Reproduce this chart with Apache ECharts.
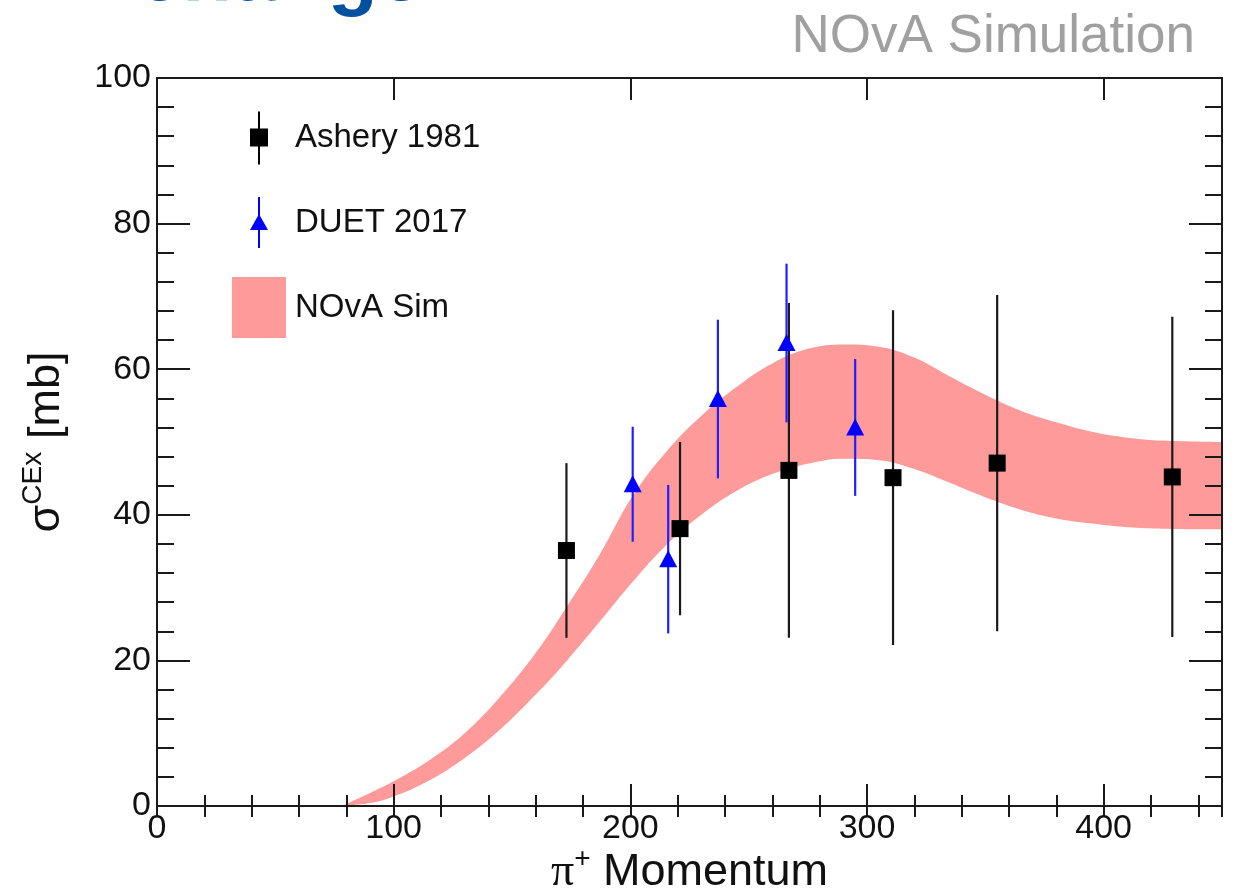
<!DOCTYPE html>
<html><head><meta charset="utf-8">
<script src="https://cdn.jsdelivr.net/npm/echarts@6/dist/echarts.min.js"></script>
<style>html,body{margin:0;padding:0;background:#fff}#c{width:1238px;height:892px}</style>
</head><body><div id="c"></div>
<script>
// ---- data ----
const xTickLabels = ['0', '100', '200', '300', '400'];
const yTickLabels = ['0', '20', '40', '60', '80', '100'];

const asheryX   = [173, 221, 267, 311, 355, 429];
const asheryY   = [35.1, 38.1, 46.1, 45.1, 47.1, 45.2];
const asheryErr = [12.0, 11.9, 23.0, 23.0, 23.1, 22.0];

const duetX   = [201, 216, 237, 266, 295];
const duetY   = [44.2, 33.9, 55.9, 63.6, 52.0];
const duetErr = [7.9, 10.2, 10.9, 10.9, 9.4];

const bandX     = [78, 90, 100, 115, 130, 145, 160, 173, 187, 201, 215, 230, 245, 260, 275, 290, 305, 320, 335, 350, 365, 380, 395, 410, 425, 450];
const bandUpper = [0.0, 1.8, 3.4, 6.3, 10.0, 15.0, 21.0, 27.3, 34.5, 42.6, 48.6, 53.6, 57.6, 60.8, 62.8, 63.4, 63.1, 61.6, 59.0, 56.5, 54.3, 52.7, 51.4, 50.6, 50.2, 50.0];
const bandLower = [0.0, 0.4, 1.3, 3.5, 6.6, 10.5, 15.3, 19.9, 25.3, 30.8, 35.8, 40.0, 43.3, 45.6, 47.0, 47.7, 47.5, 46.3, 44.4, 42.4, 40.7, 39.5, 38.8, 38.3, 38.1, 38.0];

// ---- styling ----
const F = '"Liberation Sans", Arial, Helvetica, sans-serif';
const AX = '#1a1a1a';
const PINK = '#ff9a9a';
const BLUE = '#0000ff';

function errRender(kind, markColor, barColor) {
  return function (params, api) {
    const x = api.value(0), y = api.value(1), e = api.value(2);
    const c = api.coord([x, y]);
    const t = api.coord([x, y + e]);
    const b = api.coord([x, y - e]);
    const children = [{
      type: 'line',
      shape: { x1: c[0], y1: t[1], x2: c[0], y2: b[1] },
      style: { stroke: barColor, lineWidth: 2.2 }
    }];
    if (kind === 'square') {
      children.push({ type: 'rect', shape: { x: c[0] - 8.5, y: c[1] - 8.5, width: 17, height: 17 }, style: { fill: markColor } });
    } else {
      children.push({ type: 'polygon', shape: { points: [[c[0], c[1] - 9], [c[0] + 9, c[1] + 8], [c[0] - 9, c[1] + 8]] }, style: { fill: markColor } });
    }
    return { type: 'group', children: children };
  };
}

const chart = echarts.init(document.getElementById('c'), null, { renderer: 'canvas' });

const majorTickX = { show: true, inside: true, length: 22, lineStyle: { color: AX, width: 2 } };
const minorTickX = { show: true, inside: true, length: 11, lineStyle: { color: AX, width: 2 } };
const axisLineOn = { show: true, onZero: false, lineStyle: { color: AX, width: 2 } };

const titleRich = {
  s:   { fontSize: 45, lineHeight: 56, fontFamily: F, color: '#111' },
  pi:  { fontSize: 46, lineHeight: 56, fontFamily: '"Liberation Serif", serif', color: '#111' },
  sup: { fontSize: 28, lineHeight: 38, verticalAlign: 'top', fontFamily: F, color: '#111' },
  t:   { fontSize: 45, lineHeight: 56, fontFamily: F, color: '#111' }
};

const option = {
  backgroundColor: '#ffffff',
  animation: false,
  grid: { left: 157, right: 16, top: 78, bottom: 86, containLabel: false, outerBoundsMode: 'none' },
  legend: {
    orient: 'vertical', left: 232, top: 107, padding: 0,
    itemWidth: 54, itemHeight: 61, itemGap: 24,
    selectedMode: false,
    textStyle: { fontSize: 33, fontFamily: F, color: '#111', padding: [0, 0, 0, 4] },
    data: [
      { name: 'Ashery 1981', icon: 'path://M0,0M54,61M18,21.5h18v18h-18zM26,4.5h2v53h-2z', itemStyle: { color: '#000' } },
      { name: 'DUET 2017', icon: 'path://M0,0M54,61M27,22L36,38L18,38zM26,5h2v51h-2z', itemStyle: { color: BLUE } },
      { name: 'NOvA Sim', icon: 'rect', itemStyle: { color: PINK, borderWidth: 0 } }
    ]
  },
  graphic: [
    { type: 'text', x: 36, y: -23, z: 100,
      style: { text: 'Exchange', fontSize: 82, fontWeight: 'bold', fontFamily: F, fill: '#0050a0', textAlign: 'left', align: 'left', textVerticalAlign: 'middle', verticalAlign: 'middle' } },
    { type: 'text', x: 1195, y: 37, z: 100,
      style: { text: 'NOvA Simulation', fontSize: 53, fontFamily: F, fill: '#a0a0a0', textAlign: 'right', align: 'right', textVerticalAlign: 'middle', verticalAlign: 'middle' } }
  ],
  xAxis: [
    { type: 'value', position: 'bottom', min: 0, max: 450, interval: 100, z: 10,
      axisLine: axisLineOn, axisTick: majorTickX, minorTick: { show: false }, splitLine: { show: false },
      axisLabel: { show: true, margin: 6, fontSize: 34, fontFamily: F, color: '#111', showMaxLabel: false,
        formatter: function (v) { const s = String(v); return xTickLabels.indexOf(s) >= 0 ? s : ''; } },
      name: '{pi|π}{sup|+} {t|Momentum}', nameLocation: 'middle', nameGap: 39, nameMoveOverlap: false,
      nameTextStyle: { fontFamily: F, fontSize: 45, color: '#111', rich: titleRich } },
    { type: 'value', position: 'bottom', min: 0, max: 450, interval: 20, z: 10,
      axisLine: { show: false }, axisTick: minorTickX, axisLabel: { show: false }, splitLine: { show: false } },
    { type: 'value', position: 'top', min: 0, max: 450, interval: 100, z: 10,
      axisLine: axisLineOn, axisTick: majorTickX, axisLabel: { show: false }, splitLine: { show: false } },
    { type: 'value', position: 'top', min: 0, max: 450, interval: 20, z: 10,
      axisLine: { show: false }, axisTick: minorTickX, axisLabel: { show: false }, splitLine: { show: false } }
  ],
  yAxis: [
    { type: 'value', position: 'left', min: 0, max: 100, interval: 20, z: 10,
      axisLine: axisLineOn,
      axisTick: { show: true, inside: true, length: 33, lineStyle: { color: AX, width: 2 } },
      minorTick: { show: true, splitNumber: 5, length: 17, lineStyle: { color: AX, width: 2 } },
      splitLine: { show: false }, minorSplitLine: { show: false },
      axisLabel: { show: true, margin: 6, fontSize: 34, fontFamily: F, color: '#111',
        formatter: function (v) { const s = String(v); return yTickLabels.indexOf(s) >= 0 ? s : ''; } },
      name: '{s|σ}{sup|CEx} {t|[mb]}', nameLocation: 'middle', nameGap: 82, nameMoveOverlap: false,
      nameTextStyle: { fontFamily: F, fontSize: 46, color: '#111', rich: titleRich } },
    { type: 'value', position: 'right', min: 0, max: 100, interval: 20, z: 10,
      axisLine: axisLineOn,
      axisTick: { show: true, inside: true, length: 33, lineStyle: { color: AX, width: 2 } },
      minorTick: { show: true, splitNumber: 5, length: 17, lineStyle: { color: AX, width: 2 } },
      splitLine: { show: false }, axisLabel: { show: false } }
  ],
  series: [
    { type: 'line', name: 'NOvA Sim', xAxisIndex: 0, yAxisIndex: 0, z: 1,
      data: bandX.map(function (x, i) { return [x, bandUpper[i]]; }),
      smooth: 0.4, symbol: 'none', lineStyle: { width: 0 },
      itemStyle: { color: PINK }, areaStyle: { color: PINK, opacity: 1 } },
    { type: 'line', name: 'band lower edge', xAxisIndex: 0, yAxisIndex: 0, z: 2,
      data: bandX.map(function (x, i) { return [x, bandLower[i]]; }),
      smooth: 0.4, symbol: 'none', lineStyle: { width: 0 },
      itemStyle: { color: '#ffffff' }, areaStyle: { color: '#ffffff', opacity: 1 } },
    { type: 'custom', name: 'Ashery 1981', xAxisIndex: 0, yAxisIndex: 0, z: 5,
      itemStyle: { color: '#000' },
      data: asheryX.map(function (x, i) { return [x, asheryY[i], asheryErr[i]]; }),
      encode: { x: 0, y: 1 },
      renderItem: errRender('square', '#000', '#1a1a1a') },
    { type: 'custom', name: 'DUET 2017', xAxisIndex: 0, yAxisIndex: 0, z: 6,
      itemStyle: { color: BLUE },
      data: duetX.map(function (x, i) { return [x, duetY[i], duetErr[i]]; }),
      encode: { x: 0, y: 1 },
      renderItem: errRender('triangle', BLUE, '#2020ff') }
  ]
};
chart.setOption(option);
</script></body></html>
